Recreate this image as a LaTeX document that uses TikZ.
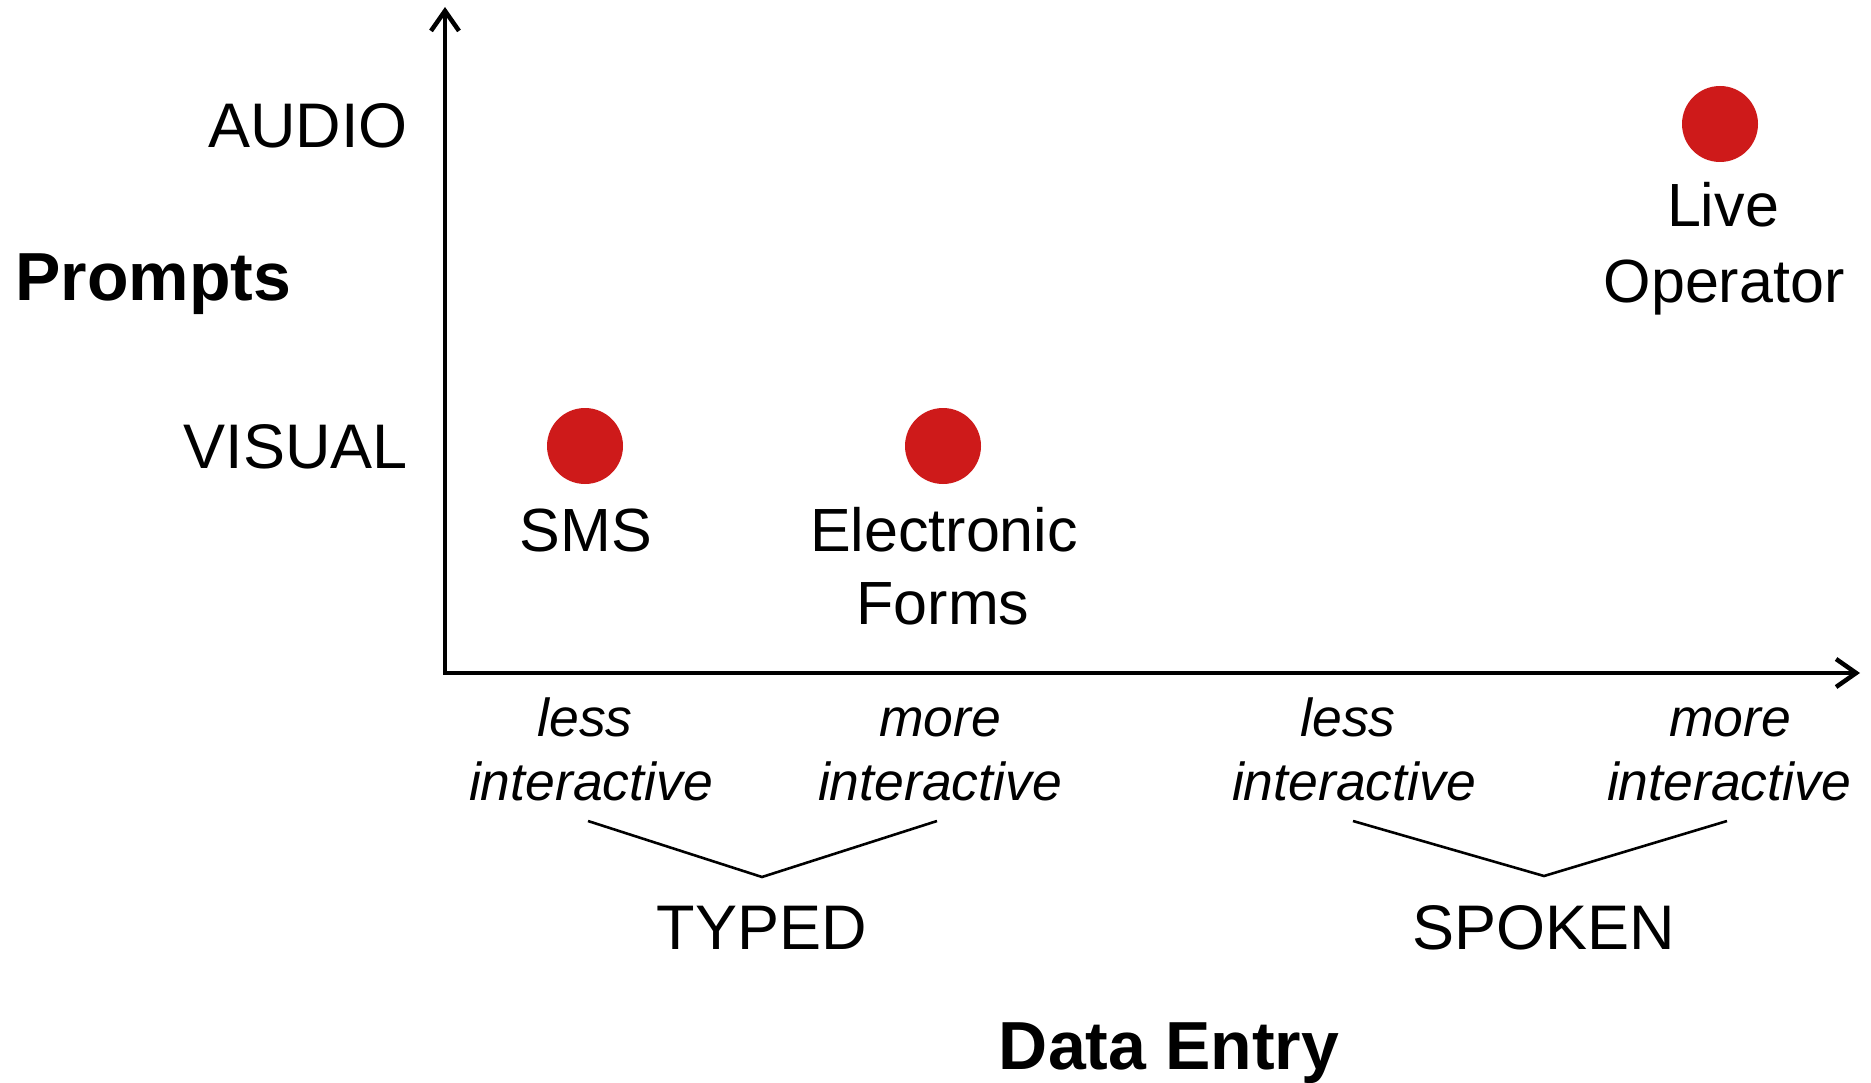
\documentclass[tikz,border=0pt]{standalone}
\usepackage{fontspec}
\setmainfont{Liberation Sans}
\usetikzlibrary{arrows.meta}
\definecolor{dotred}{RGB}{206,26,26}
\begin{document}
\begin{tikzpicture}[x=1pt,y=-1pt,
  axis/.style={line width=4.5pt,line join=miter,
    {Straight Barb[length=20pt,width=28pt]}-{Straight Barb[length=20pt,width=28pt]}},
  bracket/.style={line width=2.6pt},
  dot/.style={circle,fill=dotred,minimum size=76pt,inner sep=0pt},
  lab/.style={font=\fontsize{63}{74}\selectfont,inner sep=0pt},
  item/.style={font=\fontsize{61}{74}\selectfont,inner sep=0pt},
  sub/.style={font=\fontsize{53.5}{64}\selectfont\itshape,inner sep=0pt},
  title/.style={font=\fontsize{68}{80}\selectfont\bfseries,inner sep=0pt}]
\useasboundingbox (0,0) rectangle (1871,1083);
% axes
\coordinate (o) at (445,673);
\coordinate (ytop) at (445,7);
\coordinate (xend) at (1860,673);
\draw[axis] (ytop) -- (o) -- (xend);
% axis labels
\node[lab,anchor=base east] (audio) at (408,148) {AUDIO};
\node[lab,anchor=base east] (visual) at (408,468) {VISUAL};
\node[title,anchor=base west] (prompts) at (15,301) {Prompts};
% dots
\node[dot] (smsdot) at (585,446) {};
\node[dot] (efdot) at (943,446) {};
\node[dot] (lodot) at (1720,124) {};
% dot labels
\node[item,anchor=base] (sms) at (586,551) {SMS};
\node[item,anchor=base] (ef1) at (944,551) {Electronic};
\node[item,anchor=base] (ef2) at (943,624) {Forms};
\node[item,anchor=base] (lo1) at (1723,227) {Live};
\node[item,anchor=base] (lo2) at (1724,302) {Operator};
% sub labels
\node[sub,anchor=base] (tl1) at (585,736) {less};
\node[sub,anchor=base] (tl2) at (591,800) {interactive};
\node[sub,anchor=base] (tm1) at (940,736) {more};
\node[sub,anchor=base] (tm2) at (940,800) {interactive};
\node[sub,anchor=base] (sl1) at (1348,736) {less};
\node[sub,anchor=base] (sl2) at (1354,800) {interactive};
\node[sub,anchor=base] (sm1) at (1730,736) {more};
\node[sub,anchor=base] (sm2) at (1729,800) {interactive};
% brackets
\coordinate (tb1) at (588,821);
\coordinate (tb2) at (762,877);
\coordinate (tb3) at (937,821);
\coordinate (sb1) at (1353,821);
\coordinate (sb2) at (1544,876);
\coordinate (sb3) at (1727,821);
\draw[bracket] (tb1) -- (tb2) -- (tb3);
\draw[bracket] (sb1) -- (sb2) -- (sb3);
% group labels
\node[lab,anchor=base] (typed) at (762,949) {TYPED};
\node[lab,anchor=base] (spoken) at (1544,949) {SPOKEN};
\node[title,anchor=base] (dataentry) at (1169,1069) {Data Entry};
\end{tikzpicture}
\end{document}
